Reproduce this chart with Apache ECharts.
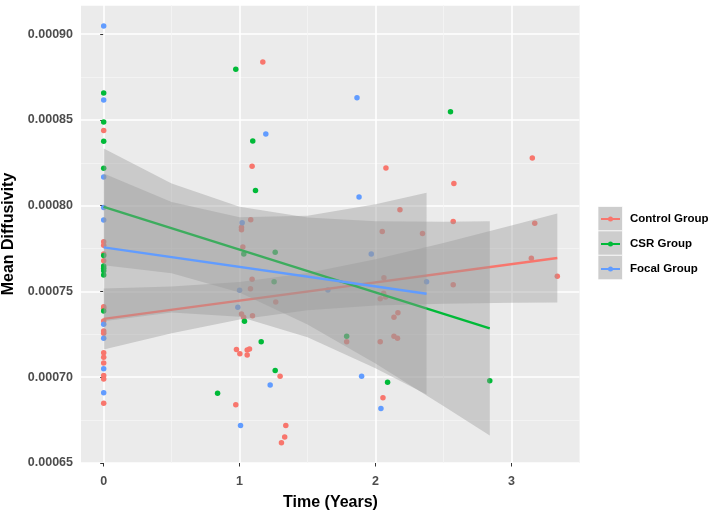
<!DOCTYPE html>
<html>
<head>
<meta charset="utf-8">
<script src="https://cdn.jsdelivr.net/npm/echarts@6/dist/echarts.min.js"></script>
<style>html,body{margin:0;padding:0;background:#fff}#c{width:711px;height:515px}</style>
</head>
<body>
<div id="c"></div>
<script>
// ---- Data ----
const groups = ['Control Group', 'CSR Group', 'Focal Group'];

const ctrlTime = [0,0,0,0,0,0,0,0,0,0,0,0,0,0,0,0,
  1.171,1.092,1.082,1.014,1.014,1.024,1.092,1.08,1.266,1.014,1.03,1.095,0.977,1.002,1.056,1.073,1.056,1.298,0.972,1.34,1.332,1.308,
  2.077,2.18,2.05,2.346,2.062,2.06,2.035,2.074,2.165,2.136,1.788,2.035,2.136,2.162,2.055,
  2.577,2.572,2.572,3.154,3.172,3.147,3.338];
const ctrlMD = [0.0008438,0.000779,0.000777,0.0007718,0.0007679,0.0007411,0.0007402,0.0007328,0.000727,0.0007256,0.0007142,0.0007117,0.0007083,0.000701,0.000699,0.0006849,
  0.0008837,0.000823,0.0007918,0.0007875,0.000786,0.0007759,0.0007571,0.0007516,0.0007439,0.0007369,0.000735,0.0007359,0.0007161,0.0007137,0.0007159,0.0007165,0.000713,0.0007006,0.0006839,0.0006719,0.0006651,0.0006618,
  0.000822,0.0007976,0.000785,0.0007838,0.000758,0.0007489,0.0007458,0.0007468,0.0007376,0.000735,0.0007207,0.0007207,0.0007239,0.0007227,0.000688,
  0.0008129,0.0007908,0.0007539,0.0008278,0.0007898,0.0007693,0.0007588];

const csrTime = [0,0,0,0,0,0,0,0,0,0,
  0.972,1.097,1.117,1.031,1.262,1.254,1.036,1.159,1.262,0.838,1.788,2.089,2.552,2.841];
const csrMD = [0.0008657,0.0008488,0.0008375,0.0008218,0.000771,0.0007648,0.0007635,0.0007621,0.0007596,0.0007386,
  0.0008796,0.0008377,0.0008089,0.0007718,0.0007728,0.0007557,0.0007326,0.0007207,0.0007039,0.0006907,0.0007239,0.0006971,0.0008548,0.0006979];

const focalTime = [0,0,0,0,0,0,0,0,0,
  1.864,1.193,1.879,1.019,1.969,2.376,1.0,0.987,1.225,1.007,1.898,2.04,1.65];
const focalMD = [0.0009047,0.0008616,0.0008168,0.000799,0.0007916,0.0007309,0.0007227,0.0007049,0.0006909,
  0.000863,0.0008418,0.000805,0.00079,0.0007718,0.0007557,0.0007507,0.0007408,0.0006955,0.0006719,0.0007006,0.0006818,0.0007508];

// fitted lines (end points)
const ctrlFitX = [0, 3.338], ctrlFitY = [0.000734, 0.0007695];
const csrFitX = [0, 2.841], csrFitY = [0.0007993, 0.0007285];
const focalFitX = [0, 2.376], focalFitY = [0.0007757, 0.0007487];

// confidence bands
const ctrlBandX = [0, 0.5, 1, 1.5, 2, 2.5, 3, 3.338];
const ctrlBandLo = [0.0007162, 0.0007257, 0.0007337, 0.0007391, 0.0007418, 0.0007429, 0.0007434, 0.0007435];
const ctrlBandHi = [0.0007518, 0.0007529, 0.0007555, 0.0007608, 0.0007688, 0.0007783, 0.0007884, 0.0007955];
const csrBandX = [0, 0.5, 1, 1.5, 2, 2.5, 2.841];
const csrBandLo = [0.0007653, 0.0007606, 0.0007494, 0.0007307, 0.000708, 0.0006833, 0.000666];
const csrBandHi = [0.0008333, 0.000813, 0.0007994, 0.0007931, 0.000791, 0.0007907, 0.000791];
const focalBandX = [0, 0.5, 1, 1.5, 2, 2.376];
const focalBandLo = [0.0007327, 0.0007378, 0.0007353, 0.0007233, 0.0007052, 0.0006899];
const focalBandHi = [0.0008187, 0.0008022, 0.0007933, 0.0007941, 0.0008008, 0.0008075];

// axis ticks
const xMajor = [0, 1, 2, 3];
const xMinor = [0.5, 1.5, 2.5, 3.5];
const yMin = 0.00065, yMax = 0.000917, yStep = 0.00005;

// ---- Styles ----
const colors = ['#F8766D', '#00BA38', '#619CFF'];
const FONT = '"Liberation Sans", Arial, Helvetica, sans-serif';
const bandFill = 'rgba(153,153,153,0.4)';

function pairs(xs, ys) { return xs.map((x, i) => [x, ys[i]]); }

function bandSeries(xs, lo, hi, z) {
  return {
    type: 'custom', z: z, silent: true,
    data: [[xs[0], lo[0]]],
    renderItem: function (params, api) {
      const pts = [];
      for (let i = 0; i < xs.length; i++) pts.push(api.coord([xs[i], hi[i]]));
      for (let i = xs.length - 1; i >= 0; i--) pts.push(api.coord([xs[i], lo[i]]));
      return { type: 'polygon', shape: { points: pts }, style: { fill: bandFill } };
    }
  };
}
function fitSeries(xs, ys, color, z) {
  return {
    type: 'line', z: z, silent: true, showSymbol: false,
    data: pairs(xs, ys),
    lineStyle: { color: color, width: 2.4 }
  };
}
function scatterSeries(name, xs, ys, color) {
  return {
    name: name, type: 'scatter', z: 2, symbolSize: 5.5,
    data: pairs(xs, ys),
    itemStyle: { color: color, opacity: 1 }
  };
}

const gridLines = {
  type: 'line', z: 1, silent: true, data: [],
  markLine: {
    z: 1, silent: true, symbol: ['none', 'none'], label: { show: false }, animation: false,
    data: [].concat(
      xMinor.map(v => ({ xAxis: v, lineStyle: { color: '#F5F5F5', width: 0.8, type: 'solid' } })),
      xMajor.map(v => ({ xAxis: v, lineStyle: { color: '#FFFFFF', width: 1.6, type: 'solid' } }))
    )
  }
};

const legendIcon = 'path://M0,1.6 L19,1.6 L19,3.4 L0,3.4 Z M7,2.5 A2.5,2.5 0 1 1 12,2.5 A2.5,2.5 0 1 1 7,2.5 Z';

const chart = echarts.init(document.getElementById('c'), null, { renderer: 'canvas' });
chart.setOption({
  animation: false,
  backgroundColor: '#FFFFFF',
  textStyle: { fontFamily: FONT },
  grid: { left: 81, top: 5, width: 499, height: 458, show: true, backgroundColor: '#EBEBEB', borderWidth: 0,
    containLabel: false, outerBoundsMode: 'none' },
  xAxis: {
    type: 'value', min: -0.167, max: 3.505,
    name: 'Time (Years)', nameLocation: 'middle', nameGap: 32,
    nameTextStyle: { fontSize: 16, fontWeight: 'bold', color: '#000', fontFamily: FONT },
    axisLine: { show: false },
    axisTick: { show: true, length: 3.5, lineStyle: { color: '#333', width: 1 }, customValues: xMajor },
    axisLabel: { customValues: xMajor, fontSize: 12.5, fontWeight: 'bold', color: '#4D4D4D', margin: 12, fontFamily: FONT },
    splitLine: { show: false }
  },
  yAxis: {
    type: 'value', min: yMin, max: yMax, interval: yStep,
    name: 'Mean Diffusivity', nameLocation: 'middle', nameGap: 53, nameRotate: 90,
    nameTextStyle: { fontSize: 16, fontWeight: 'bold', color: '#000', fontFamily: FONT },
    axisLine: { show: false },
    axisTick: { show: true, length: 3.5, lineStyle: { color: '#333', width: 1 } },
    axisLabel: { fontSize: 12.5, fontWeight: 'bold', color: '#4D4D4D', margin: 8, fontFamily: FONT,
      showMaxLabel: false, formatter: v => Number(v).toFixed(5) },
    splitLine: { show: true, lineStyle: { color: '#FFFFFF', width: 1.6 } },
    minorTick: { show: false, splitNumber: 2 },
    minorSplitLine: { show: true, lineStyle: { color: '#F5F5F5', width: 0.8 } }
  },
  legend: {
    orient: 'vertical', left: 596, top: 207, itemWidth: 19, itemHeight: 5, itemGap: 11,
    selectedMode: false,
    textStyle: { fontSize: 11.5, fontWeight: 'bold', color: '#000', lineHeight: 14, fontFamily: FONT, padding: [0, 0, 0, 5] },
    data: groups.map((g, i) => ({ name: g, icon: legendIcon, itemStyle: { color: colors[i] } }))
  },
  graphic: groups.map((g, i) => ({
    type: 'rect', z: 0, silent: true,
    shape: { x: 598, y: 206.5 + i * 24.4, width: 24.5, height: 24.4 },
    style: { fill: '#CDCDCD', stroke: 'rgba(255,255,255,0.7)', lineWidth: 1 }
  })),
  series: [
    gridLines,
    scatterSeries(groups[0], ctrlTime, ctrlMD, colors[0]),
    scatterSeries(groups[1], csrTime, csrMD, colors[1]),
    scatterSeries(groups[2], focalTime, focalMD, colors[2]),
    bandSeries(ctrlBandX, ctrlBandLo, ctrlBandHi, 3),
    fitSeries(ctrlFitX, ctrlFitY, colors[0], 4),
    bandSeries(csrBandX, csrBandLo, csrBandHi, 5),
    fitSeries(csrFitX, csrFitY, colors[1], 6),
    bandSeries(focalBandX, focalBandLo, focalBandHi, 7),
    fitSeries(focalFitX, focalFitY, colors[2], 8)
  ]
});
</script>
</body>
</html>
